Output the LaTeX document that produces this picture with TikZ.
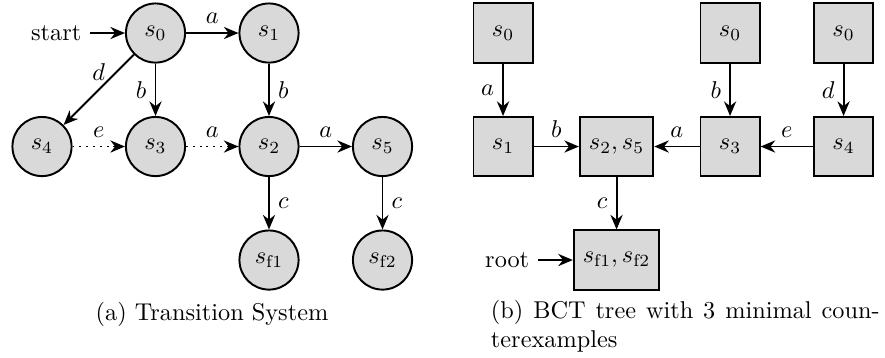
\documentclass[tikz,border=0pt]{standalone}
\usepackage{amssymb, amsmath}
\usepackage{tikz}
\usetikzlibrary{arrows.meta, positioning}
\definecolor{nodegray}{RGB}{217, 217, 217}

\begin{document}
\begin{tikzpicture}[x=1.641cm, y=1.641cm, thick, >={Stealth[length=6pt, width=5pt]},
    tsnode/.style={circle, draw, fill=nodegray, minimum size=0.855cm, inner sep=0pt},
    bctnode/.style={rectangle, draw, fill=nodegray, minimum size=0.855cm, inner sep=3.7pt}]

  \useasboundingbox (-0.370, 0.291) rectangle (7.427, -2.863);

  % transition system
  \node[tsnode] (s0) at (1, 0) {$s_0$};
  \node[tsnode] (s1) at (2, 0) {$s_1$};
  \node[tsnode] (s4) at (0, -1) {$s_4$};
  \node[tsnode] (s3) at (1, -1) {$s_3$};
  \node[tsnode] (s2) at (2, -1) {$s_2$};
  \node[tsnode] (s5) at (3, -1) {$s_5$};
  \node[tsnode] (sf1) at (2, -2) {$s_{\mathrm{f}1}$};
  \node[tsnode] (sf2) at (3, -2) {$s_{\mathrm{f}2}$};
  \node[left=0.5cm of s0] (start) {start};

  \draw[->] (start) -- (s0);
  \draw[->] (s0) -- node[above] {$a$} (s1);
  \draw[->] (s0) -- node[above] {$d$} (s4);
  \draw[->] (s0) -- node[left] {$b$} (s3);
  \draw[->] (s1) -- node[right] {$b$} (s2);
  \draw[->, dotted] (s4) -- node[above] {$e$} (s3);
  \draw[->, dotted] (s3) -- node[above] {$a$} (s2);
  \draw[->] (s2) -- node[above] {$a$} (s5);
  \draw[->] (s2) -- node[right] {$c$} (sf1);
  \draw[->] (s5) -- node[right] {$c$} (sf2);

  \node (capa) at (1.498, -2.476) {(a) Transition System};

  % BCT tree
  \node[bctnode] (ta) at (4.062, 0) {$s_0$};
  \node[bctnode] (tb) at (6.062, 0) {$s_0$};
  \node[bctnode] (td) at (7.062, 0) {$s_0$};
  \node[bctnode] (t1) at (4.062, -1) {$s_1$};
  \node[bctnode] (t25) at (5.062, -1) {$s_2, s_5$};
  \node[bctnode] (t3) at (6.062, -1) {$s_3$};
  \node[bctnode] (t4) at (7.062, -1) {$s_4$};
  \node[bctnode] (tf) at (5.062, -2) {$s_{\mathrm{f}1}, s_{\mathrm{f}2}$};
  \node[left=0.5cm of tf] (root) {root};

  \draw[->] (root) -- (tf);
  \draw[->] (ta) -- node[left] {$a$} (t1);
  \draw[->] (tb) -- node[left] {$b$} (t3);
  \draw[->] (td) -- node[left] {$d$} (t4);
  \draw[->] (t1) -- node[above] {$b$} (t25);
  \draw[->] (t3) -- node[above] {$a$} (t25);
  \draw[->] (t4) -- node[above] {$e$} (t3);
  \draw[->] (t25) -- node[left] {$c$} (tf);

  \node[text width=5.62cm, align=justify, inner sep=0pt, anchor=north west] (capb)
    at (3.947, -2.343) {(b) BCT tree with 3 minimal coun-\linebreak terexamples};

\end{tikzpicture}
\end{document}
